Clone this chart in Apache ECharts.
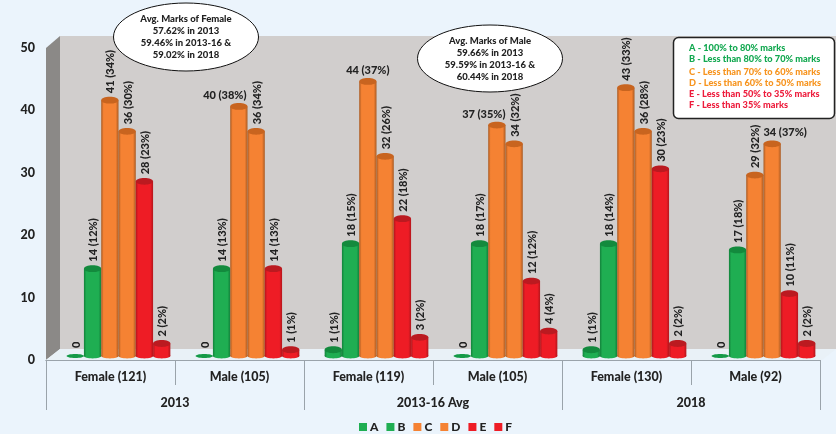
<!DOCTYPE html>
<html><head><meta charset="utf-8">
<style>html,body{margin:0;padding:0;background:#ebf4fc}#c{width:836px;height:434px}</style>
<script src="https://cdn.jsdelivr.net/npm/echarts@6/dist/echarts.min.js"></script>
</head><body><div id="c"></div>
<script>
const groups = ['Female (121)','Male (105)','Female (119)','Male (105)','Female (130)','Male (92)'];
const years = ['2013','2013-16 Avg','2018'];
const gradeNames = ['A','B','C','D','E','F'];
const yTicks = [0,10,20,30,40,50];
const A = [0,0,1,0,1,0];
const B = [14,14,18,18,18,17];
const C = [41,40,44,37,43,29];
const D = [36,36,32,34,36,34];
const E = [28,14,22,12,30,10];
const F = [2,1,3,4,2,2];
const pctA = [null,null,1,null,1,null];
const pctB = [12,13,15,17,14,18];
const pctC = [34,38,37,35,33,32];
const pctD = [30,34,26,32,28,37];
const pctE = [23,13,18,12,23,11];
const pctF = [2,1,2,4,2,2];
const femaleNote = ['Avg. Marks of Female','57.62% in 2013','59.46% in 2013-16 &','59.02% in 2018'];
const maleNote = ['Avg. Marks of Male','59.66% in 2013','59.59% in 2013-16 &','60.44% in 2018'];
const keyLines = ['A - 100% to 80% marks','B - Less than 80% to 70% marks','C - Less than 70% to 60% marks','D - Less than 60% to 50% marks','E - Less than 50% to 35% marks','F - Less than 35% marks'];
const keyColors = ['#12a850','#12a850','#f7941e','#f7941e','#ed1c3c','#ed1c3c'];
const keyRows = [48,59,72,83,94,105];
const values = [A,B,C,D,E,F];
const pcts = [pctA,pctB,pctC,pctD,pctE,pctF];
const colors = ['#1fae52','#1fae52','#f58233','#f58233','#ee1c25','#ee1c25'];
const edges = ['#12803a','#12803a','#a95a22','#a95a22','#b3161c','#b3161c'];
const tops = ['#138a3d','#138a3d','#c8641f','#c8641f','#bb1a20','#bb1a20'];
// labels drawn flat instead of rotated: [series, category] -> sideways nudge
const flat = {'2,1':-14,'2,2':0,'2,3':-13,'3,5':13};
const FONT = 'Lato, "Open Sans", sans-serif';
const W = '900';

function cyl(si){
  return function(params, api){
    const c = api.value(0), v = api.value(1);
    const top = api.coord([c, v]), base = api.coord([c, 0]);
    const band = api.size([1,0])[0];
    const w = band*0.134, x = top[0] + (si-2.5)*w, l = x-w/2;
    const ry = 3.4;
    const grad = new echarts.graphic.LinearGradient(0,0,1,0,[
      {offset:0,color:edges[si]},{offset:0.14,color:colors[si]},
      {offset:0.84,color:colors[si]},{offset:1,color:edges[si]}]);
    const kids = [];
    if (v > 0) {
      kids.push({type:'rect',shape:{x:l,y:top[1],width:w,height:base[1]-top[1]},style:{fill:grad}});
      kids.push({type:'ellipse',shape:{cx:x,cy:base[1],rx:w/2,ry:ry-1},style:{fill:grad}});
    }
    kids.push({type:'ellipse',shape:{cx:x,cy:top[1],rx:w/2,ry:v>0?ry:2},style:{fill:v>0?tops[si]:'#159a48'}});
    const p = pcts[si][c];
    const txt = p === null ? String(v) : v + ' (' + p + '%)';
    const key = si+','+c;
    kids.push(key in flat
      ? {type:'text',style:{x:x+flat[key],y:top[1]-11,text:txt,fill:'#222',font:W+' 11px '+FONT,align:'center',verticalAlign:'middle'}}
      : {type:'text',x:x+1,y:top[1]-(v>0?7:8),rotation:Math.PI/2,style:{x:0,y:0,text:txt,fill:'#222',font:W+' 11px '+FONT,align:'left',verticalAlign:'middle'}});
    return {type:'group',children:kids};
  };
}

function note(cx, cy, rx, ry, lines){
  return {type:'group',z:50,children:[
    {type:'ellipse',z:50,shape:{cx,cy,rx,ry},style:{fill:'#fff',stroke:'#111',lineWidth:1}},
    ...lines.map((t,i)=>({type:'text',z:51,style:{x:cx,y:cy-18+i*12,text:t,fill:'#222',font:W+' 9.5px '+FONT,align:'center',verticalAlign:'middle'}}))
  ]};
}

const chart = echarts.init(document.getElementById('c'),null,{renderer:'canvas'});
chart.setOption({
  animation:false,
  backgroundColor:'#ebf4fc',
  grid:[
    {left:46,width:774,top:48,height:312,z:3},
    {left:54,width:774,top:44,height:312}
  ],
  xAxis:[
    {type:'category',gridIndex:0,data:groups,position:'bottom',z:3,
     axisLine:{show:true,onZero:false,lineStyle:{color:'#9aa3aa',width:1}},axisTick:{show:true,interval:0,length:25,lineStyle:{color:'#9aa3aa',width:1}},
     axisLabel:{margin:10,color:'#222',fontFamily:FONT,fontWeight:W,fontSize:12.5}},
    {type:'category',gridIndex:0,data:years,position:'bottom',z:3,offset:0,
     axisLine:{show:true,onZero:false,lineStyle:{color:'#9aa3aa',width:1}},axisTick:{show:true,interval:0,length:50,lineStyle:{color:'#9aa3aa',width:1}},
     axisLabel:{margin:36,color:'#222',fontFamily:FONT,fontWeight:W,fontSize:12.5}},
    {type:'category',gridIndex:1,data:groups,show:false}
  ],
  yAxis:[
    {type:'value',gridIndex:0,min:yTicks[0],max:yTicks[5],interval:10,
     axisLine:{show:false},axisTick:{show:false},splitLine:{show:false},
     axisLabel:{margin:11,color:'#222',fontFamily:FONT,fontWeight:W,fontSize:12.5}},
    {type:'value',gridIndex:1,min:yTicks[0],max:yTicks[5],interval:10,show:false,splitLine:{show:false}}
  ],
  legend:{top:416,left:354,itemWidth:8,itemHeight:8,itemGap:8,icon:'rect',
    textStyle:{color:'#222',fontFamily:FONT,fontWeight:W,fontSize:12,padding:[0,0,0,-2]},data:gradeNames},
  series:gradeNames.map((n,si)=>({
    name:n,type:'custom',xAxisIndex:2,yAxisIndex:1,z:5,clip:false,
    itemStyle:{color:colors[si]},
    encode:{x:0,y:1},
    data:values[si].map((v,c)=>[c,v]),
    renderItem:cyl(si)
  })),
  graphic:{elements:[
    {type:'rect',z:-2,shape:{x:60,y:36,width:776,height:313},style:{fill:'#d1cecd'}},
    {type:'polygon',z:-2,shape:{points:[[46,48],[60,36],[60,349],[46,360]]},style:{fill:'#8b8987'}},
    {type:'polygon',z:-2,shape:{points:[[46,360],[60,349],[836,349],[822,360]]},style:{fill:'#e9f1f7'}},
    note(186,37,72.5,34,femaleNote),
    note(490,58.5,72.5,33.5,maleNote),
    {type:'rect',z:50,shape:{x:673.5,y:37.5,width:161,height:81,r:5},style:{fill:'#fff',stroke:'#222',lineWidth:1.5}},
    ...keyLines.map((t,i)=>({type:'text',z:51,style:{x:689,y:keyRows[i],text:t,fill:keyColors[i],font:W+' 9.2px '+FONT,align:'left',verticalAlign:'middle'}}))
  ]}
});
</script></body></html>
